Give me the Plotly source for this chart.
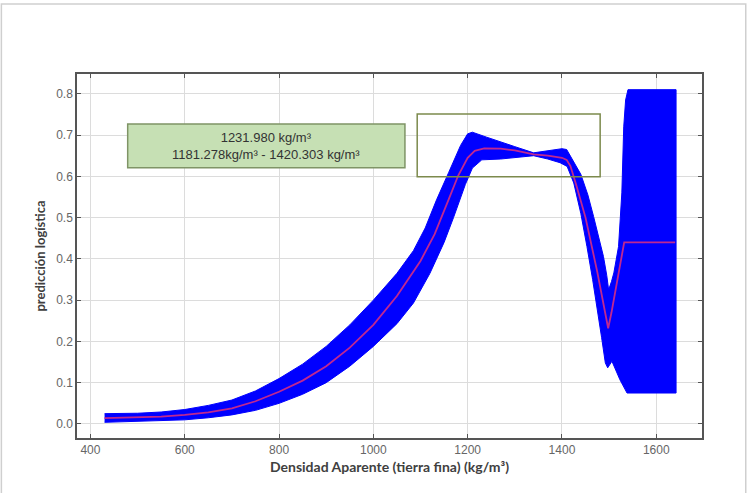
import plotly.graph_objects as go

# Bulk density (fine earth), kg/m3, and the logistic prediction band
x_band_upper = [430, 500, 550, 600, 650, 700, 750, 800, 850, 900, 950, 1000, 1050,
                1085, 1110, 1134, 1160, 1185, 1200, 1210, 1240, 1270, 1300, 1340,
                1370, 1400, 1410, 1418, 1430, 1440, 1455, 1467, 1478, 1488, 1495,
                1499, 1505, 1510, 1520, 1527, 1531, 1535, 1540, 1642]
y_band_upper = [0.025, 0.026, 0.029, 0.035, 0.045, 0.058, 0.080, 0.110, 0.145, 0.188,
                0.240, 0.300, 0.365, 0.420, 0.475, 0.543, 0.610, 0.675, 0.703, 0.707,
                0.695, 0.683, 0.672, 0.657, 0.662, 0.667, 0.665, 0.650, 0.625, 0.605,
                0.555, 0.503, 0.455, 0.406, 0.360, 0.325, 0.345, 0.366, 0.430, 0.560,
                0.720, 0.785, 0.810, 0.810]

x_band_lower = [430, 500, 600, 650, 700, 750, 800, 850, 900, 950, 1000, 1050, 1085,
                1120, 1150, 1170, 1184, 1195, 1210, 1230, 1270, 1300, 1340, 1370,
                1396, 1411, 1418, 1425, 1440, 1453, 1465, 1474, 1484, 1492, 1497,
                1506, 1523, 1538, 1642]
y_band_lower = [0.004, 0.006, 0.010, 0.015, 0.022, 0.033, 0.050, 0.072, 0.100, 0.140,
                0.188, 0.243, 0.293, 0.365, 0.440, 0.500, 0.543, 0.580, 0.620, 0.640,
                0.642, 0.645, 0.650, 0.642, 0.633, 0.624, 0.605, 0.584, 0.510, 0.430,
                0.350, 0.285, 0.210, 0.148, 0.136, 0.152, 0.107, 0.075, 0.075]

# Median prediction
x_median = [430, 500, 550, 600, 650, 700, 750, 800, 850, 900, 950, 1000, 1050, 1100,
            1130, 1160, 1180, 1200, 1215, 1235, 1270, 1300, 1340, 1370, 1400, 1410,
            1418, 1430, 1450, 1475, 1490, 1498, 1505, 1515, 1525, 1532, 1640]
y_median = [0.014, 0.016, 0.018, 0.022, 0.028, 0.038, 0.055, 0.078, 0.105, 0.140,
            0.185, 0.240, 0.310, 0.395, 0.460, 0.545, 0.602, 0.645, 0.662, 0.668,
            0.667, 0.663, 0.653, 0.650, 0.645, 0.640, 0.625, 0.580, 0.500, 0.368,
            0.280, 0.232, 0.270, 0.335, 0.400, 0.440, 0.440]

x_ticks = [400, 600, 800, 1000, 1200, 1400, 1600]
y_ticks = [0.0, 0.1, 0.2, 0.3, 0.4, 0.5, 0.6, 0.7, 0.8]

# Highlighted interval boxes (data units)
label_box = dict(x0=479, x1=1067, y0=0.621, y1=0.727)
range_box = dict(x0=1093, x1=1481, y0=0.599, y1=0.751)
label_lines = ["1231.980 kg/m³", "1181.278kg/m³ - 1420.303 kg/m³"]

fig = go.Figure()

band_x = x_band_upper + x_band_lower[::-1]
band_y = y_band_upper + y_band_lower[::-1]
fig.add_trace(go.Scatter(
    x=band_x, y=band_y, mode="lines", fill="toself",
    fillcolor="#0000ff", line=dict(color="#0000ff", width=1),
    hoverinfo="skip", showlegend=False,
))
fig.add_trace(go.Scatter(
    x=x_median, y=y_median, mode="lines",
    line=dict(color="#c02890", width=1.8),
    showlegend=False,
))

fig.add_shape(type="rect", xref="x", yref="y", **label_box,
              fillcolor="#c6e0b4", line=dict(color="#7f9466", width=1.5), layer="above")
fig.add_shape(type="rect", xref="x", yref="y", **range_box,
              fillcolor="rgba(0,0,0,0)", line=dict(color="#7c8a4c", width=1.5), layer="above")
fig.add_annotation(
    x=(label_box["x0"] + label_box["x1"]) / 2,
    y=(label_box["y0"] + label_box["y1"]) / 2,
    xref="x", yref="y", text="<br>".join(label_lines), showarrow=False,
    font=dict(family="Liberation Sans, Arial", size=13, color="#333333"),
    align="center",
)

# light frame around the whole figure
fig.add_shape(type="rect", xref="paper", yref="paper",
              x0=-0.121, x1=1.07, y0=-0.2, y1=1.192,
              line=dict(color="#cfcfcf", width=1.5), fillcolor="rgba(0,0,0,0)")

axis_common = dict(
    showline=True, linecolor="#555555", linewidth=1.5, mirror="ticks",
    ticks="inside", ticklen=4, tickcolor="#555555",
    showgrid=True, gridcolor="#dcdcdc", gridwidth=1, zeroline=False,
    tickfont=dict(family="Liberation Sans, Arial", size=12, color="#666666"),
)

fig.update_xaxes(
    range=[371.5, 1697], tickvals=x_ticks, ticktext=[str(v) for v in x_ticks],
    title=dict(text="<b>Densidad Aparente (tierra fina) (kg/m³)</b>", standoff=6,
               font=dict(family="Lato, Open Sans", size=14, color="#404040")),
    **axis_common,
)
fig.update_yaxes(
    range=[-0.034, 0.848], tickvals=y_ticks, ticktext=[f"{v:.1f}" for v in y_ticks],
    title=dict(text="<b>predicción logística</b>", standoff=8,
               font=dict(family="Lato, Open Sans", size=13, color="#404040")),
    **axis_common,
)

fig.update_layout(
    width=753, height=493,
    margin=dict(l=77, r=51, t=74, b=55),
    plot_bgcolor="white", paper_bgcolor="white",
)

fig.write_html("out.html")
